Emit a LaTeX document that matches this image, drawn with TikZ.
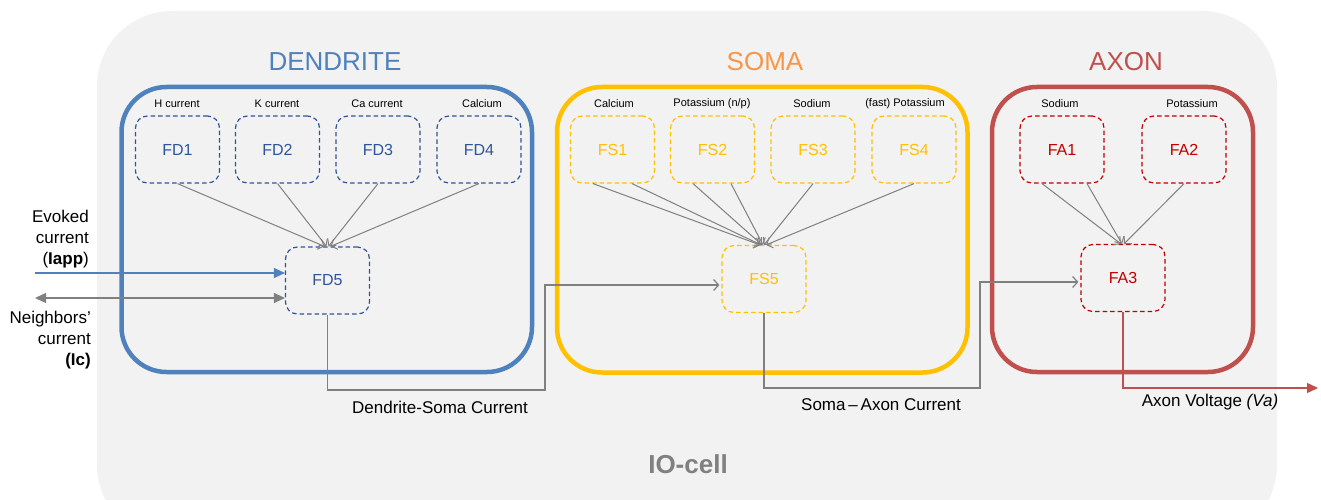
\documentclass[tikz,border=0pt]{standalone}
\usepackage{fontspec}
\setmainfont{Liberation Sans}
\usetikzlibrary{arrows.meta,calc}

\definecolor{cellbg}{RGB}{242,242,242}
\definecolor{dendblue}{RGB}{79,129,189}
\definecolor{dendtext}{RGB}{47,85,151}
\definecolor{somayel}{RGB}{255,192,0}
\definecolor{somaorange}{RGB}{247,150,70}
\definecolor{axonred}{RGB}{192,80,77}
\definecolor{axondash}{RGB}{192,0,0}
\definecolor{wiregray}{RGB}{128,128,128}

\tikzset{
  region/.style={line width=4.5pt, rounded corners=45pt},
  fbox/.style={draw, dashed, dash pattern=on 4.5pt off 3pt, line width=1.2pt,
    rounded corners=12pt, minimum width=84pt, minimum height=67pt,
    inner sep=0pt, font=\fontsize{16}{19}\selectfont},
  fdbox/.style={fbox, draw=dendtext, text=dendtext},
  fsbox/.style={fbox, draw=somayel, text=somayel},
  fabox/.style={fbox, draw=axondash, text=axondash},
  chan/.style={font=\fontsize{11}{13}\selectfont, inner sep=0pt},
  title/.style={font=\fontsize{26}{30}\selectfont, inner sep=0pt},
  caption/.style={font=\fontsize{17}{21}\selectfont, inner sep=0pt},
  feed/.style={draw=wiregray, line width=1pt, -{Straight Barb[length=5pt,width=11pt]}},
  wire/.style={draw=wiregray, line width=1.2pt},
}

\begin{document}
\begin{tikzpicture}[x=1pt, y=-1pt]
\useasboundingbox (0,0) rectangle (1321,500);

% cell body
\fill[cellbg, rounded corners=75pt] (97,11) rectangle (1277,540);

% compartments
\draw[region, dendblue] (121.5,87) rectangle (532,372);
\draw[region, somayel] (557,87) rectangle (967.5,372.5);
\draw[region, axonred] (992,87) rectangle (1253,372);

\node[title, text=dendblue] (tden) at (335,62) {DENDRITE};
\node[title, text=somaorange] (tsom) at (765,62) {SOMA};
\node[title, text=axonred] (taxo) at (1126,62) {AXON};

% dendrite channels
\node[fdbox] (fd1) at (177.5,149.5) {FD1};
\node[fdbox] (fd2) at (277.5,149.5) {FD2};
\node[fdbox] (fd3) at (378,149.5) {FD3};
\node[fdbox] (fd4) at (479,149.5) {FD4};
\node[fdbox] (fd5) at (327.5,280.5) {FD5};

\node[chan] (lfd1) at (177,104) {H current};
\node[chan] (lfd2) at (277,104) {K current};
\node[chan] (lfd3) at (377,104) {Ca current};
\node[chan] (lfd4) at (482,104) {Calcium};

% soma channels
\node[fsbox] (fs1) at (612.5,149.5) {FS1};
\node[fsbox] (fs2) at (712.5,149.5) {FS2};
\node[fsbox] (fs3) at (813,149.5) {FS3};
\node[fsbox] (fs4) at (914,149.5) {FS4};
\node[fsbox] (fs5) at (764,279) {FS5};

\node[chan] (lfs1) at (614,104) {Calcium};
\node[chan] (lfs2) at (712,104) {Potassium (n/p)};
\node[chan] (lfs3) at (812,104) {Sodium};
\node[chan] (lfs4) at (905,104) {(fast) Potassium};

% axon channels
\node[fabox] (fa1) at (1062,149.5) {FA1};
\node[fabox] (fa2) at (1184,149.5) {FA2};
\node[fabox] (fa3) at (1123,278) {FA3};

\node[chan] (lfa1) at (1060,104) {Sodium};
\node[chan] (lfa2) at (1192,104) {Potassium};

% channel contributions
\draw[feed] (fd1.south) -- ([xshift=-3pt]fd5.north);
\draw[feed] (fd2.south) -- ([xshift=-1pt]fd5.north);
\draw[feed] (fd3.south) -- ([xshift=1pt]fd5.north);
\draw[feed] (fd4.south) -- ([xshift=3pt]fd5.north);

\draw[feed] ([xshift=-19.5pt]fs1.south) -- ([xshift=-4pt]fs5.north);
\draw[feed] ([xshift=19.5pt]fs1.south) -- ([xshift=-3pt]fs5.north);
\draw[feed] ([xshift=-19.5pt]fs2.south) -- ([xshift=-2pt]fs5.north);
\draw[feed] ([xshift=18.5pt]fs2.south) -- ([xshift=-1pt]fs5.north);
\draw[feed] (fs3.south) -- ([xshift=0pt]fs5.north);
\draw[feed] (fs4.south) -- ([xshift=2pt]fs5.north);

\draw[feed] ([xshift=-20pt]fa1.south) -- ([xshift=-2pt]fa3.north);
\draw[feed] ([xshift=25pt]fa1.south) -- ([xshift=-1pt]fa3.north);
\draw[feed] (fa2.south) -- ([xshift=1pt]fa3.north);

% external inputs
\coordinate (iappin) at (35,273);
\coordinate (icin) at (35,298);
\draw[dendblue, line width=1.3pt, -{Triangle[length=11pt,width=10pt]}]
  (iappin) -- (iappin -| fd5.west);
\draw[wiregray, line width=1.3pt, {Triangle[length=11pt,width=10pt]}-{Triangle[length=11pt,width=10pt]}]
  (icin) -- (icin -| fd5.west);

\node[caption, align=right, anchor=east] (levoked) at (89,239) {Evoked\\current\\(\textbf{Iapp})};
\node[caption, align=right, anchor=east] (lneigh) at (91,340) {Neighbors’\\current\\\textbf{(Ic)}};

% inter-compartment currents
\coordinate (dsturn) at (545,390);
\coordinate (saturn) at (980,388);
\coordinate (avout) at (1318,388);
\draw[wire, -{Straight Barb[length=5pt,width=11pt]}]
  (fd5.south) |- (dsturn) |- ([yshift=-6pt, xshift=-2pt]fs5.west);
\draw[wire, -{Straight Barb[length=5pt,width=11pt]}]
  (fs5.south) |- (saturn) |- ([yshift=-4pt, xshift=-2pt]fa3.west);
\draw[axonred, line width=1.3pt, -{Triangle[length=11pt,width=10pt]}]
  (fa3.south) |- (avout);

\node[caption] (lds) at (440,407) {Dendrite-Soma Current};
\node[caption] (lsa) at (881,405) {Soma\,–\,Axon Current};
\node[caption] (lav) at (1210,402) {Axon Voltage \textit{(Va)}};

\node[title, text=wiregray, font=\fontsize{26}{30}\selectfont\bfseries] (lcell) at (688,464) {IO-cell};
\end{tikzpicture}
\end{document}
